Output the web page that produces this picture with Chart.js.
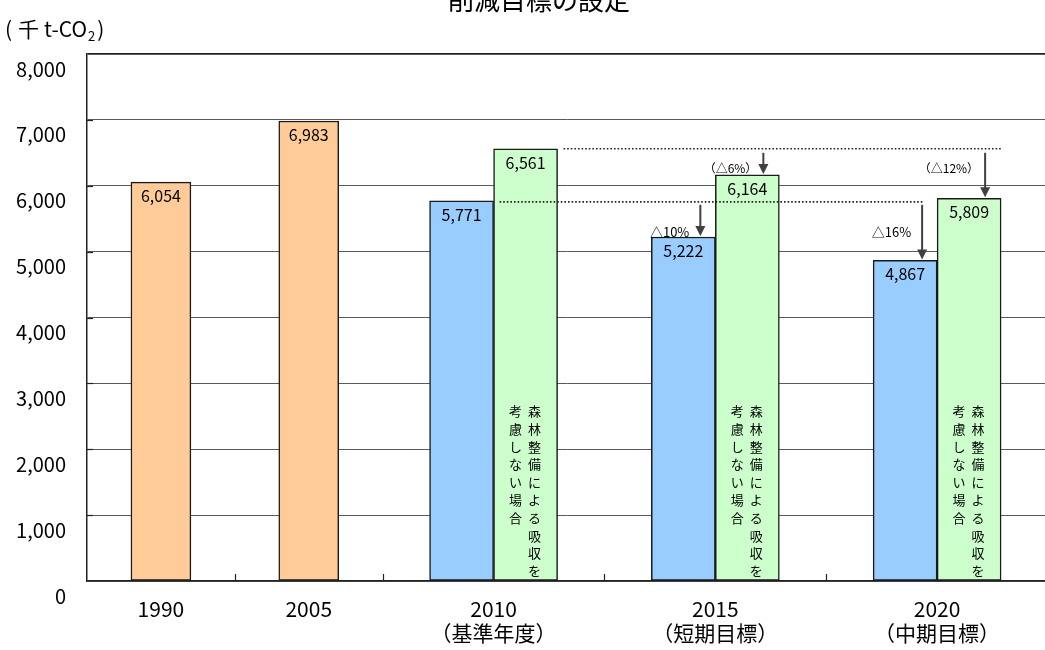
<!DOCTYPE html>
<html>
<head>
<meta charset="utf-8">
<script src="https://cdn.jsdelivr.net/npm/chart.js@4/dist/chart.umd.min.js"></script>
<style>
  html, body { margin: 0; padding: 0; background: #fff; overflow: hidden; }
  #wrap { width: 1045px; height: 650px; overflow: hidden; position: relative; }
  canvas { display: block; }
</style>
</head>
<body>
<div id="wrap"><canvas id="c" width="1060" height="650"></canvas></div>
<script>
// ---- data ----
const categories = [['1990'], ['2005'], ['2010', '（基準年度）'], ['2015', '（短期目標）'], ['2020', '（中期目標）']];
const actualValues = [6054, 6983, null, null, null];        // 実績
const targetValues = [null, null, 5771, 5222, 4867];        // 目標（森林吸収考慮）
const noForestValues = [null, null, 6561, 6164, 5809];      // 森林整備による吸収を考慮しない場合
const targetReductionLabels = [null, null, null, '△10%', '△16%'];
const noForestReductionLabels = [null, null, null, '（△6%）', '（△12%）'];
const noteColumns = ['森林整備による吸収を', '考慮しない場合'];
const chartTitle = '削減目標の設定';
const yUnitParts = ['(', '千', 't-CO', '2', ')'];
const yMin = 0, yMax = 8000, yStep = 1000;

const FONT = '"Noto Sans CJK JP", "Noto Sans", sans-serif';

// Category scale whose categories have unequal widths
class WeightedCategoryScale extends Chart.CategoryScale {
  _weights() { return this.options.weights || this.getLabels().map(() => 1); }
  getBoundaryPixel(k) {
    const w = this._weights();
    let total = 0, before = 0;
    for (let i = 0; i < w.length; i++) { total += w[i]; if (i < k) before += w[i]; }
    return this.getPixelForDecimal(before / total);
  }
  getPixelForValue(value) {
    if (typeof value !== 'number') value = this.parse(value);
    if (value === null || value === undefined || isNaN(value)) return NaN;
    const w = this._weights();
    const i = Math.max(0, Math.min(w.length - 1, Math.round(value)));
    let total = 0, before = 0;
    for (let k = 0; k < w.length; k++) { total += w[k]; if (k < i) before += w[k]; }
    return this.getPixelForDecimal((before + w[i] / 2) / total);
  }
  getPixelForTick(index) {
    const t = this.ticks[index];
    return t ? this.getPixelForValue(t.value) : NaN;
  }
}
WeightedCategoryScale.id = 'weightedCategory';
WeightedCategoryScale.defaults = Chart.CategoryScale.defaults;
Chart.register(WeightedCategoryScale);

const overlay = {
  id: 'overlay',
  afterDatasetsDraw(chart) {
    const { ctx, chartArea, scales: { x, y } } = chart;
    const metaB = chart.getDatasetMeta(1), metaG = chart.getDatasetMeta(2);
    ctx.save();

    // inner tick marks on axes
    ctx.strokeStyle = '#222';
    ctx.lineWidth = 1.2;
    for (let v = yMin + yStep; v < yMax; v += yStep) {
      const py = Math.round(y.getPixelForValue(v)) + 0.5;
      ctx.beginPath(); ctx.moveTo(chartArea.left, py); ctx.lineTo(chartArea.left + 6, py); ctx.stroke();
    }
    for (let k = 1; k <= categories.length; k++) {
      const px = Math.round(x.getBoundaryPixel(k)) + 0.5;
      ctx.beginPath(); ctx.moveTo(px, chartArea.bottom); ctx.lineTo(px, chartArea.bottom - 7); ctx.stroke();
    }

    // value labels
    ctx.fillStyle = '#000';
    ctx.textAlign = 'center';
    ctx.textBaseline = 'middle';
    ctx.font = '16px ' + FONT;
    chart.data.datasets.forEach((ds, di) => {
      chart.getDatasetMeta(di).data.forEach((bar, i) => {
        const v = ds.data[i];
        if (v === null || v === undefined) return;
        ctx.fillText(v.toLocaleString('en-US'), bar.x, bar.y + 14);
      });
    });

    // vertical notes in green bars
    ctx.font = '13px ' + FONT;
    metaG.data.forEach((bar, i) => {
      if (noForestValues[i] === null) return;
      noteColumns.forEach((col, ci) => {
        const cx = bar.x + (ci === 0 ? 9 : -10);
        Array.from(col).forEach((ch, k) => {
          ctx.fillText(ch, cx, chartArea.bottom - 170 + k * 17.8);
        });
      });
    });

    // dotted reference lines
    const baseIdx = 2;
    const yBlue = y.getPixelForValue(targetValues[baseIdx]);
    const yGreen = y.getPixelForValue(noForestValues[baseIdx]);
    const lastIdx = categories.length - 1;
    const right = b => b.x + b.width / 2;
    const arrowXBlue = b => right(b) - 15;
    const arrowXGreen = b => right(b) - 16;

    ctx.strokeStyle = '#222';
    ctx.lineWidth = 1.6;
    ctx.setLineDash([1.6, 2]);
    ctx.beginPath();
    ctx.moveTo(right(metaG.data[baseIdx]) + 6, yGreen);
    ctx.lineTo(right(metaG.data[lastIdx]), yGreen);
    ctx.stroke();
    ctx.beginPath();
    ctx.moveTo(right(metaB.data[baseIdx]) + 6, yBlue + 1);
    ctx.lineTo(arrowXBlue(metaB.data[lastIdx]) + 2, yBlue + 1);
    ctx.stroke();
    ctx.setLineDash([]);

    // arrows + reduction labels
    function arrow(ax, y0, y1) {
      ctx.strokeStyle = '#404040';
      ctx.fillStyle = '#404040';
      ctx.lineWidth = 2;
      ctx.beginPath(); ctx.moveTo(ax, y0); ctx.lineTo(ax, y1 - 9); ctx.stroke();
      ctx.beginPath(); ctx.moveTo(ax - 5, y1 - 11); ctx.lineTo(ax + 5, y1 - 11); ctx.lineTo(ax, y1 - 1); ctx.closePath(); ctx.fill();
    }
    ctx.textAlign = 'right';
    ctx.textBaseline = 'middle';
    metaB.data.forEach((bar, i) => {
      const lab = targetReductionLabels[i];
      if (!lab) return;
      const ax = arrowXBlue(bar);
      arrow(ax, yBlue + 4, bar.y);
      ctx.fillStyle = '#000';
      ctx.font = '13px ' + FONT;
      ctx.fillText(lab, ax - 11, yBlue + 31);
    });
    metaG.data.forEach((bar, i) => {
      const lab = noForestReductionLabels[i];
      if (!lab) return;
      const ax = arrowXGreen(bar);
      arrow(ax, yGreen + 4, bar.y);
      ctx.fillStyle = '#000';
      ctx.font = '12px ' + FONT;
      ctx.fillText(lab, ax - 6, yGreen + 20);
    });

    ctx.restore();
  },
  afterDraw(chart) {
    const { ctx } = chart;
    ctx.save();
    ctx.fillStyle = '#000';
    // title (top is cut off in the original)
    ctx.font = '26px ' + FONT;
    ctx.textAlign = 'center';
    ctx.textBaseline = 'alphabetic';
    ctx.fillText(chartTitle, 539, 10);
    // y unit  (千 t-CO2)
    ctx.textAlign = 'left';
    ctx.textBaseline = 'middle';
    const big = '21px ' + FONT, small = '13px ' + FONT;
    let xx = 5;
    ctx.font = big;
    ctx.fillText(yUnitParts[0], xx, 29); xx += ctx.measureText(yUnitParts[0]).width + 6;
    ctx.fillText(yUnitParts[1], xx, 29); xx += ctx.measureText(yUnitParts[1]).width + 5;
    ctx.fillText(yUnitParts[2], xx, 29); xx += ctx.measureText(yUnitParts[2]).width + 1;
    ctx.font = small;
    ctx.fillText(yUnitParts[3], xx, 36); xx += ctx.measureText(yUnitParts[3]).width + 2;
    ctx.font = big;
    ctx.fillText(yUnitParts[4], xx, 29);
    ctx.restore();
  }
};

const barStyle = { borderColor: '#1a1a1a', borderWidth: 1.5, borderSkipped: false, skipNull: true };

new Chart(document.getElementById('c'), {
  type: 'bar',
  data: {
    labels: categories,
    datasets: [
      Object.assign({ label: '実績', data: actualValues, backgroundColor: '#FFCC99', barThickness: 60 }, barStyle),
      Object.assign({ label: '目標', data: targetValues, backgroundColor: '#99CCFF', barThickness: 64 }, barStyle),
      Object.assign({ label: '森林整備による吸収を考慮しない場合', data: noForestValues, backgroundColor: '#CCFFCC', barThickness: 64 }, barStyle)
    ]
  },
  options: {
    responsive: false,
    animation: false,
    devicePixelRatio: 1,
    layout: { padding: { top: 54, right: 12, left: 0, bottom: 0 } },
    plugins: { legend: { display: false }, tooltip: { enabled: false }, title: { display: false } },
    scales: {
      x: {
        type: 'weightedCategory',
        weights: [2, 2, 3, 3, 3],
        grid: { display: false, drawTicks: false },
        border: { display: true, color: '#222', width: 1.5 },
        ticks: { color: '#000', font: { family: FONT, size: 21, lineHeight: 1.15 }, padding: 16, maxRotation: 0, autoSkip: false },
        afterFit(s) { s.height = 69; }
      },
      y: {
        min: yMin, max: yMax,
        grid: {
          drawTicks: false,
          color: c => (c.tick && c.tick.value === yMax) ? '#222' : '#5a5a5a',
          lineWidth: c => (c.tick && c.tick.value === yMax) ? 1.8 : 1
        },
        border: { display: true, color: '#222', width: 1.5 },
        ticks: {
          stepSize: yStep,
          color: '#000',
          font: { family: FONT, size: 20 },
          padding: 21,
          labelOffset: 15,
          callback: v => v.toLocaleString('en-US')
        },
        afterFit(s) { s.width = 87; }
      }
    }
  },
  plugins: [overlay]
});
</script>
</body>
</html>
